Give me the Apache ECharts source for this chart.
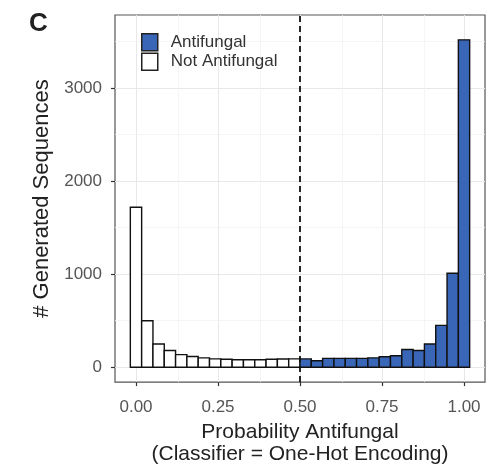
<!DOCTYPE html>
<html>
<head>
<meta charset="utf-8">
<script src="https://cdn.jsdelivr.net/npm/echarts@6/dist/echarts.min.js"></script>
<style>
  html, body { margin: 0; padding: 0; background: #fff; }
  #chart { width: 495px; height: 470px; }
</style>
</head>
<body>
<div id="chart"></div>
<script>
// 30 bins over [0, 1], centres at k/29
const binCount = 30
const binWidth = 1 / (binCount - 1)

// counts per bin
const notAntifungal = [1720, 500, 250, 180, 135, 115, 100, 90, 85, 80, 80, 80, 85, 88, 90]
const antifungal = [90, 70, 95, 95, 95, 95, 100, 113, 124, 190, 180, 250, 450, 1010, 3520]

const xTicks = [0, 0.25, 0.5, 0.75, 1]
const yTicks = [0, 1000, 2000, 3000]
const xMinor = [0.125, 0.375, 0.625, 0.875]
const yMinor = [500, 1500, 2500, 3500]

const font = "'Liberation Sans', Arial, sans-serif"

const notData = notAntifungal.map((v, i) => [i * binWidth, v])
const antiData = antifungal.map((v, i) => [(i + notAntifungal.length) * binWidth, v])

function renderBin(params, api) {
  const x = api.value(0)
  const y = api.value(1)
  const p0 = api.coord([x - binWidth / 2, y])
  const p1 = api.coord([x + binWidth / 2, 0])
  return {
    type: 'rect',
    shape: { x: p0[0], y: p0[1], width: p1[0] - p0[0], height: p1[1] - p0[1] },
    style: { fill: api.visual('color'), stroke: '#111', lineWidth: 1.4 }
  }
}

const chart = echarts.init(document.getElementById('chart'))

chart.setOption({
  animation: false,
  backgroundColor: '#fff',
  title: {
    text: 'C',
    left: 24,
    top: 6,
    textStyle: { fontFamily: font, fontSize: 26, fontWeight: 'bold', color: '#222' }
  },
  legend: {
    orient: 'vertical',
    left: 136,
    top: 28,
    itemWidth: 16,
    itemHeight: 17,
    itemGap: 1,
    icon: 'rect',
    textStyle: { fontFamily: font, fontSize: 17, lineHeight: 17, color: '#333', padding: [0, 0, 0, 8] },
    data: [
      { name: 'Antifungal', itemStyle: { color: '#3a66b8', borderColor: '#222', borderWidth: 1.5 } },
      { name: 'Not Antifungal', itemStyle: { color: '#fff', borderColor: '#222', borderWidth: 1.5 } }
    ]
  },
  grid: {
    left: 115,
    right: 10,
    top: 15,
    bottom: 85,
    show: true,
    borderColor: '#555',
    borderWidth: 1.2
  },
  xAxis: {
    type: 'value',
    min: -0.064,
    max: 1.064,
    name: 'Probability Antifungal\n(Classifier = One-Hot Encoding)',
    nameLocation: 'middle',
    nameGap: 38,
    nameTextStyle: { fontFamily: font, fontSize: 21, color: '#222', lineHeight: 22 },
    axisLine: { show: false, onZero: false },
    axisTick: { show: true, customValues: xTicks, length: 4, lineStyle: { color: '#333', width: 1.2 } },
    axisLabel: {
      customValues: xTicks,
      margin: 17,
      fontFamily: font,
      fontSize: 17,
      color: '#555',
      formatter: v => v.toFixed(2)
    },
    splitLine: { show: true, lineStyle: { color: '#e8e8e8', width: 1 } }
  },
  yAxis: {
    type: 'value',
    min: -160,
    max: 3787,
    name: '# Generated Sequences',
    nameLocation: 'middle',
    nameGap: 62,
    nameTextStyle: { fontFamily: font, fontSize: 22, color: '#222' },
    axisLine: { show: false, onZero: false },
    axisTick: { show: true, customValues: yTicks, length: 4, lineStyle: { color: '#333', width: 1.2 } },
    axisLabel: {
      customValues: yTicks,
      margin: 13,
      fontFamily: font,
      fontSize: 17,
      color: '#555',
      formatter: v => String(v)
    },
    splitLine: { show: true, lineStyle: { color: '#e8e8e8', width: 1 } }
  },
  series: [
    {
      name: 'grid-minor',
      type: 'line',
      data: [],
      silent: true,
      z: 0,
      markLine: {
        silent: true,
        z: 0,
        symbol: 'none',
        label: { show: false },
        lineStyle: { color: '#f2f2f2', width: 0.8, type: 'solid' },
        data: xMinor.map(v => ({ xAxis: v })).concat(yMinor.map(v => ({ yAxis: v })))
      }
    },
    {
      name: 'Not Antifungal',
      type: 'custom',
      renderItem: renderBin,
      itemStyle: { color: '#fff' },
      data: notData,
      z: 3
    },
    {
      name: 'Antifungal',
      type: 'custom',
      renderItem: renderBin,
      itemStyle: { color: '#3a66b8' },
      data: antiData,
      z: 3,
      markLine: {
        silent: true,
        z: 4,
        symbol: 'none',
        label: { show: false },
        lineStyle: { color: '#111', width: 1.8, type: [6, 4] },
        data: [{ xAxis: 0.5 }]
      }
    }
  ]
})
</script>
</body>
</html>
